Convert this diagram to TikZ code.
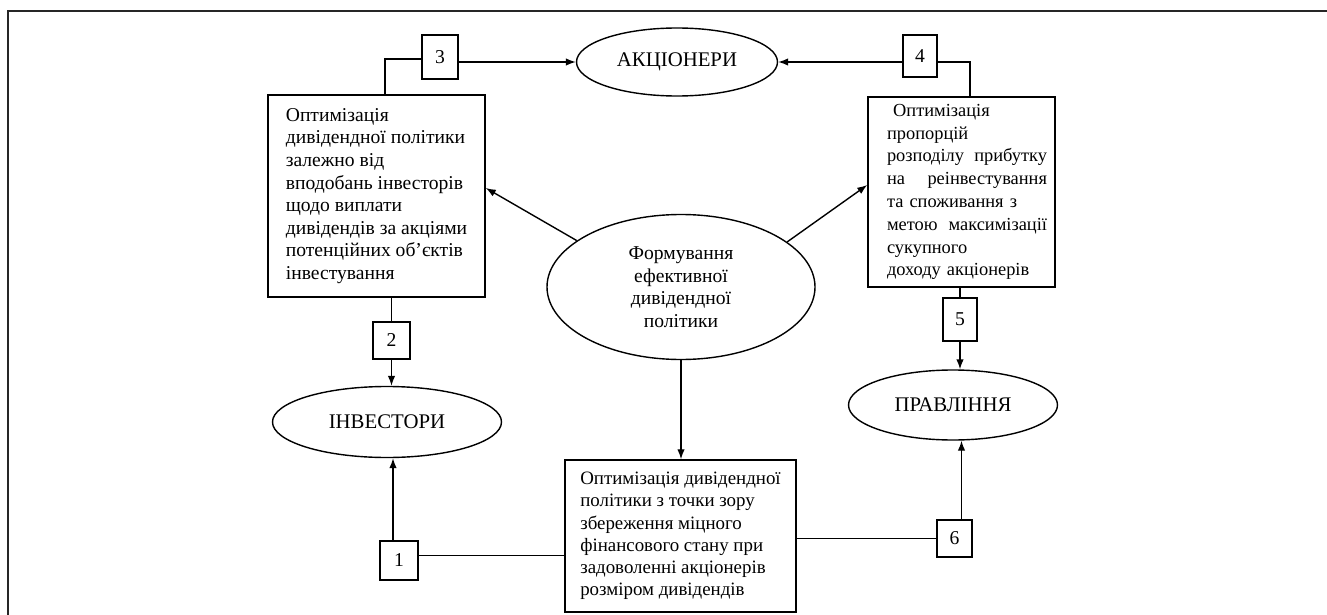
\documentclass[tikz,border=0pt]{standalone}
\usepackage{fontspec}
\setmainfont{Liberation Serif}
\usetikzlibrary{arrows.meta,shapes.geometric}
\begin{document}
\begin{tikzpicture}[x=1pt,y=-1pt,
  every node/.style={font=\fontsize{19.6}{22.6}\selectfont},
  box/.style={draw, line width=1.5pt, rectangle, inner sep=0pt, align=left},
  oval/.style={draw, line width=1.4pt, ellipse, inner sep=0pt},
  big/.style={font=\fontsize{20.8}{24}\selectfont},
  num/.style={draw, line width=1.5pt, inner sep=0pt},
  conn/.style={line width=1.4pt},
  arr/.style={conn, -{Latex[length=10pt,width=7.5pt]}}]
\useasboundingbox (0,0) rectangle (1327,615);
\draw[line width=2.6pt, color=black!85] (8,620) -- (8,11) -- (1330,11);

% ellipses
\node[oval, big, minimum width=201pt, minimum height=68pt] (akc) at (677,62) {АКЦІОНЕРИ};
\node[oval, minimum width=268pt, minimum height=145pt, align=center] (cent) at (681,287)
  {Формування\\ефективної\\дивідендної\\політики};
\node[oval, big, minimum width=229pt, minimum height=71pt] (inv) at (387,422) {ІНВЕСТОРИ};
\node[oval, big, minimum width=209pt, minimum height=70pt] (prav) at (953,405) {ПРАВЛІННЯ};

% boxes
\node[box, minimum width=217pt, minimum height=202pt] (lbox) at (376.5,196)
  {Оптимізація\\дивідендної політики\\залежно від\\вподобань інвесторів\\щодо виплати\\дивідендів за акціями\\потенційних об’єктів\\інвестування};
\node[box, minimum width=187pt, minimum height=190pt, text width=171pt,
      font=\fontsize{18.4}{22.8}\selectfont] (rbox) at (961.5,192)
  {\leftskip=11pt\ Оптимізація\\пропорцій\\розподілу \hfill прибутку\\на \hfill реінвестування\\та споживання з\\метою \hfill максимізації\\сукупного\\доходу акціонерів\par};
\node[box, minimum width=231pt, minimum height=152pt,
      font=\fontsize{18.9}{22.2}\selectfont] (bbox) at (680.5,536)
  {Оптимізація дивідендної\\політики з точки зору\\збереження міцного\\фінансового стану при\\задоволенні акціонерів\\розміром дивідендів};

% number boxes
\node[num, minimum width=36pt, minimum height=44pt] (b3) at (440,57) {3};
\node[num, minimum width=34pt, minimum height=42pt] (b4) at (920,56) {4};
\node[num, minimum width=37pt, minimum height=37pt] (b2) at (391.5,340.5) {2};
\node[num, minimum width=34pt, minimum height=43pt] (b5) at (960,319.5) {5};
\node[num, minimum width=35pt, minimum height=37pt] (b6) at (954.5,538.5) {6};
\node[num, minimum width=38pt, minimum height=39pt] (b1) at (399,560.5) {1};

% connectors
\draw[conn] ([xshift=8.5pt]lbox.north) |- ([yshift=-2pt]b3.west);
\draw[arr] (b3.east |- akc.west) -- (akc.west);
\draw[arr] (b4.west |- akc.east) -- (akc.east);
\draw[conn] ([yshift=-6pt]b4.east) -| ([xshift=8.5pt]rbox.north);
\draw[arr] (cent.156) -- ([yshift=8pt]lbox.east);
\draw[arr] (cent.23) -- ([yshift=7pt]rbox.west);
\draw[conn] (lbox.south -| b2.north) -- (b2.north);
\draw[arr] (b2.south) -- (b2.south |- inv.north);
\draw[conn] (rbox.south -| b5.north) -- (b5.north);
\draw[arr] (b5.south) -- (b5.south |- prav.north);
\draw[arr] (cent.south) -- (cent.south |- bbox.north);
\draw[arr] ([xshift=-6pt]b1.north) -- ([xshift=-6pt]b1.north |- inv.south);
\draw[conn] ([yshift=5pt]b1.east) -- ([yshift=5pt]b1.east -| bbox.west);
\draw[conn] (b6.west) -- (b6.west -| bbox.east);
\draw[arr] ([xshift=7pt]b6.north) -- ([xshift=7pt]b6.north |- prav.south);
\end{tikzpicture}
\end{document}
